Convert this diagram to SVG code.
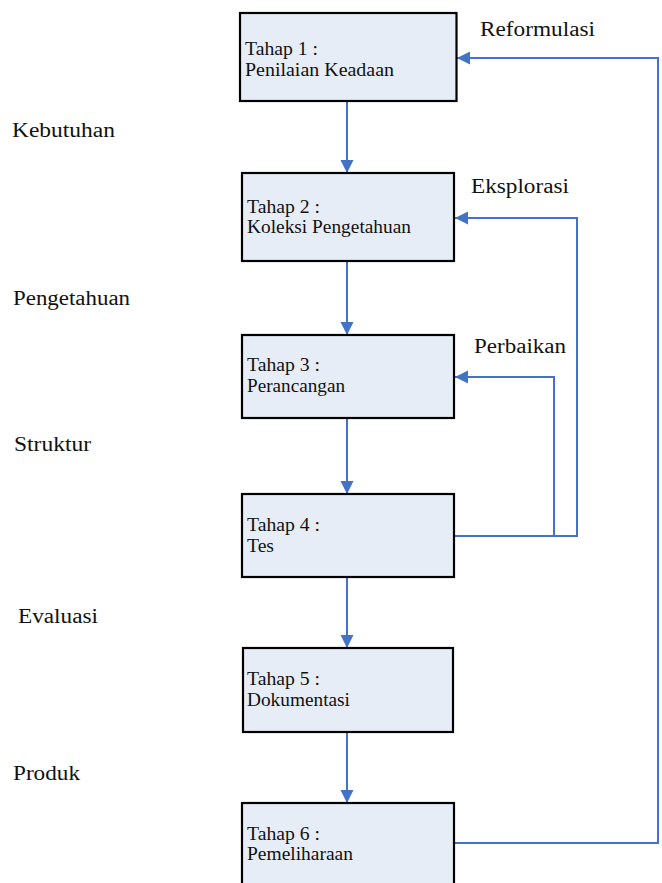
<svg xmlns="http://www.w3.org/2000/svg" width="662" height="883" viewBox="0 0 662 883">
<style>
.box{fill:#E7EDF7;stroke:#000;stroke-width:2.2}
.bt{font-size:19px;fill:#111}
.lb{font-size:20px;fill:#111}
.cn{fill:none;stroke:#4472C4;stroke-width:2}
</style>
<defs>
<marker id="ah" markerUnits="userSpaceOnUse" markerWidth="14" markerHeight="14" refX="13" refY="6.5" orient="auto">
<path d="M0,0 L13,6.5 L0,13 z" fill="#4472C4"/>
</marker>
</defs>
<rect width="662" height="883" fill="#fff"/>
<g id="connectors">
<line class="cn" x1="347" y1="101" x2="347" y2="173" marker-end="url(#ah)"/>
<line class="cn" x1="347" y1="261" x2="347" y2="335" marker-end="url(#ah)"/>
<line class="cn" x1="347" y1="418" x2="347" y2="494" marker-end="url(#ah)"/>
<line class="cn" x1="347" y1="577" x2="347" y2="648" marker-end="url(#ah)"/>
<line class="cn" x1="347" y1="732" x2="347" y2="803" marker-end="url(#ah)"/>
<polyline class="cn" points="454,843 658,843 658,58 457,58" marker-end="url(#ah)"/>
<polyline class="cn" points="454,536 577,536 577,218 455,218" marker-end="url(#ah)"/>
<polyline class="cn" points="554,536 554,377 455,377" marker-end="url(#ah)"/>
</g>
<g font-family="Liberation Serif, DejaVu Serif, serif">
<g id="node1">
<rect class="box" x="240" y="13" width="216.5" height="88"/>
<text class="bt" x="245" y="55" textLength="73" lengthAdjust="spacingAndGlyphs">Tahap 1 :</text>
<text class="bt" x="245" y="76" textLength="149" lengthAdjust="spacingAndGlyphs">Penilaian Keadaan</text>
</g>
<g id="node2">
<rect class="box" x="242" y="173" width="212" height="88"/>
<text class="bt" x="247" y="213" textLength="73" lengthAdjust="spacingAndGlyphs">Tahap 2 :</text>
<text class="bt" x="247" y="233" textLength="164" lengthAdjust="spacingAndGlyphs">Koleksi Pengetahuan</text>
</g>
<g id="node3">
<rect class="box" x="242" y="335" width="212" height="83"/>
<text class="bt" x="247" y="371" textLength="73" lengthAdjust="spacingAndGlyphs">Tahap 3 :</text>
<text class="bt" x="247" y="392" textLength="98" lengthAdjust="spacingAndGlyphs">Perancangan</text>
</g>
<g id="node4">
<rect class="box" x="242" y="494" width="212" height="83"/>
<text class="bt" x="247" y="531" textLength="73" lengthAdjust="spacingAndGlyphs">Tahap 4 :</text>
<text class="bt" x="247" y="552" textLength="27" lengthAdjust="spacingAndGlyphs">Tes</text>
</g>
<g id="node5">
<rect class="box" x="243" y="648" width="210" height="84"/>
<text class="bt" x="247" y="685" textLength="73" lengthAdjust="spacingAndGlyphs">Tahap 5 :</text>
<text class="bt" x="247" y="706" textLength="103" lengthAdjust="spacingAndGlyphs">Dokumentasi</text>
</g>
<g id="node6">
<rect class="box" x="242" y="803" width="212" height="86"/>
<text class="bt" x="247" y="840" textLength="73" lengthAdjust="spacingAndGlyphs">Tahap 6 :</text>
<text class="bt" x="247" y="860" textLength="106" lengthAdjust="spacingAndGlyphs">Pemeliharaan</text>
</g>
<g id="labels">
<text class="lb" x="480" y="36" textLength="115" lengthAdjust="spacingAndGlyphs">Reformulasi</text>
<text class="lb" x="471" y="193" textLength="98" lengthAdjust="spacingAndGlyphs">Eksplorasi</text>
<text class="lb" x="474" y="353" textLength="92" lengthAdjust="spacingAndGlyphs">Perbaikan</text>
<text class="lb" x="12" y="137" textLength="103" lengthAdjust="spacingAndGlyphs">Kebutuhan</text>
<text class="lb" x="13" y="305" textLength="117" lengthAdjust="spacingAndGlyphs">Pengetahuan</text>
<text class="lb" x="14" y="451" textLength="77" lengthAdjust="spacingAndGlyphs">Struktur</text>
<text class="lb" x="18" y="623" textLength="80" lengthAdjust="spacingAndGlyphs">Evaluasi</text>
<text class="lb" x="13" y="780" textLength="67" lengthAdjust="spacingAndGlyphs">Produk</text>
</g>
</g>
</svg>
